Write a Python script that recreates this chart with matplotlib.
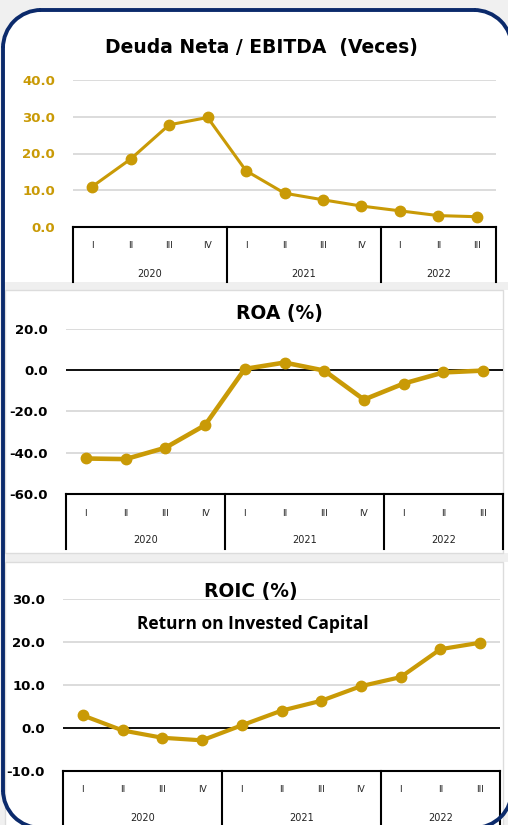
import matplotlib
matplotlib.use("Agg")
import matplotlib.pyplot as plt
from matplotlib.patches import Rectangle, Circle, Arc

# quarters / years shared by the three charts
quarters = ["I", "II", "III", "IV", "I", "II", "III", "IV", "I", "II", "III"]
years = ["2020", "2021", "2022"]
year_len = [4, 4, 3]

deuda_ebitda = [11.0, 18.5, 27.8, 29.8, 15.3, 9.2, 7.4, 5.7, 4.4, 3.1, 2.8]
roa = [-42.9, -43.2, -37.7, -26.7, 0.6, 3.7, -0.2, -14.3, -6.5, -1.1, -0.2]
roic = [3.0, -0.5, -2.2, -2.8, 0.7, 4.1, 6.4, 9.8, 11.9, 18.4, 19.9]

W, H = 508, 825
GOLD = "#C99A06"
NAVY = "#0b2a6b"
GRID = "#d9d9d9"

fig = plt.figure(figsize=(W / 100, H / 100), dpi=100)
fig.patch.set_facecolor("#f0f0f0")


def px(x0, y0, x1, y1):
    # pixel box (top-left origin) -> figure fraction rect
    return [x0 / W, 1 - y1 / H, (x1 - x0) / W, (y1 - y0) / H]


def pixel_axes(z):
    a = fig.add_axes([0, 0, 1, 1], zorder=z)
    a.set_xlim(0, W)
    a.set_ylim(0, H)
    a.axis("off")
    a.patch.set_alpha(0)
    return a


def box(a, x0, y0, x1, y1, **kw):
    # rectangle given in top-left pixel coords
    a.add_patch(Rectangle((x0, H - y1), x1 - x0, y1 - y0, **kw))


# rounded frame, top-left pixel coords
FL, FT, FR, FB, R = 3, 10, 512, 828, 38
corners = [((FL + R, FT + R), 90, 180), ((FR - R, FT + R), 0, 90),
           ((FL + R, FB - R), 180, 270), ((FR - R, FB - R), 270, 360)]

bg = pixel_axes(-1)
box(bg, FL + R, FT, FR - R, FB, facecolor="white", edgecolor="none")
box(bg, FL, FT + R, FR, FB - R, facecolor="white", edgecolor="none")
for (cx, cy), t1, t2 in corners:
    bg.add_patch(Circle((cx, H - cy), R, facecolor="white", edgecolor="none"))
# gray gaps and white panels 2 and 3
for (y0, y1) in [(282, 290), (553, 562)]:
    box(bg, 5, y0, W + 5, y1, facecolor="#efefef", edgecolor="none")
for (y0, y1) in [(290, 553), (562, 835)]:
    box(bg, 5, y0, 503, y1, facecolor="white", edgecolor="#dcdcdc", linewidth=1.0)

# navy outline on top of everything
top = pixel_axes(10)
for (cx, cy), t1, t2 in corners:
    top.add_patch(Arc((cx, H - cy), 2 * R, 2 * R, theta1=t1, theta2=t2,
                      color=NAVY, lw=2.8))
top.plot([FL + R, FR - R], [H - FT, H - FT], color=NAVY, lw=2.8)
top.plot([FL + R, FR - R], [H - FB, H - FB], color=NAVY, lw=2.8)
top.plot([FL, FL], [H - FT - R, H - FB + R], color=NAVY, lw=2.8)
top.plot([FR, FR], [H - FT - R, H - FB + R], color=NAVY, lw=2.8)


def draw(rect, vals, ylim, step, tick_color, lw, zero_line, box_bottom, q_y, y_y):
    ax = fig.add_axes(rect, zorder=1)
    ax.patch.set_alpha(0)
    x = list(range(len(vals)))
    ax.plot(x, vals, color=GOLD, lw=lw, marker="o", ms=7.5, solid_capstyle="round",
            zorder=5, clip_on=False)
    ax.set_xlim(-0.5, len(vals) - 0.5)
    ax.set_ylim(*ylim)
    ticks = [ylim[0] + i * step for i in range(int((ylim[1] - ylim[0]) / step) + 1)]
    ax.set_yticks(ticks)
    ax.set_yticklabels([f"{t:.1f}" for t in ticks], color=tick_color,
                       fontsize=9.5, fontweight="bold")
    ax.tick_params(axis="y", length=0, pad=13)
    ax.set_xticks([])
    for s in ax.spines.values():
        s.set_visible(False)
    for t in ticks:
        ax.axhline(t, color=GRID, lw=1.3, zorder=1)
    if zero_line:
        ax.axhline(0, color="black", lw=1.3, zorder=2)
    # category table below the axis
    ax.axhline(ylim[0], color="black", lw=1.5, zorder=3, clip_on=False)
    edges = [-0.5]
    for n in year_len:
        edges.append(edges[-1] + n)
    for e in edges:
        ax.plot([e, e], [0, box_bottom], transform=ax.get_xaxis_transform(),
                color="black", lw=1.5, clip_on=False)
    for i, q in enumerate(quarters):
        ax.text(i, q_y, q, transform=ax.get_xaxis_transform(), ha="center",
                va="center", fontsize=6.5, color="#222222")
    for j, yr in enumerate(years):
        ax.text((edges[j] + edges[j + 1]) / 2, y_y, yr,
                transform=ax.get_xaxis_transform(), ha="center", va="center",
                fontsize=7, color="#222222")
    return ax


# chart 1
h1 = 227 - 80
ax1 = draw(px(73, 80, 496, 227), deuda_ebitda, (0, 40), 10, GOLD, 2.2, False,
           -(282 - 227) / h1, -(246 - 227) / h1, -(274 - 227) / h1)
fig.text(261 / W, 1 - 48 / H, "Deuda Neta / EBITDA  (Veces)", ha="center",
         va="center", fontsize=13.5, fontweight="bold", zorder=5)

# chart 2
h2 = 493.7 - 329
ax2 = draw(px(66, 329, 503, 493.7), roa, (-60, 20), 20, "black", 3.3, True,
           -(549 - 493.7) / h2, -(513 - 493.7) / h2, -(540 - 493.7) / h2)
fig.text(279 / W, 1 - 314 / H, "ROA (%)", ha="center", va="center",
         fontsize=13.5, fontweight="bold", zorder=5)

# chart 3
h3 = 771.3 - 599.3
ax3 = draw(px(63, 599.3, 500, 771.3), roic, (-10, 30), 10, "black", 3.0, True,
           -(835 - 771.3) / h3, -(790 - 771.3) / h3, -(818 - 771.3) / h3)
fig.text(251 / W, 1 - 591 / H, "ROIC (%)", ha="center", va="center",
         fontsize=13.5, fontweight="bold", zorder=5)
fig.text(253 / W, 1 - 624 / H, "Return on Invested Capital", ha="center",
         va="center", fontsize=12.5, fontweight="bold", family="Open Sans", zorder=5)

fig.savefig("out.png", dpi=100, facecolor=fig.get_facecolor())
